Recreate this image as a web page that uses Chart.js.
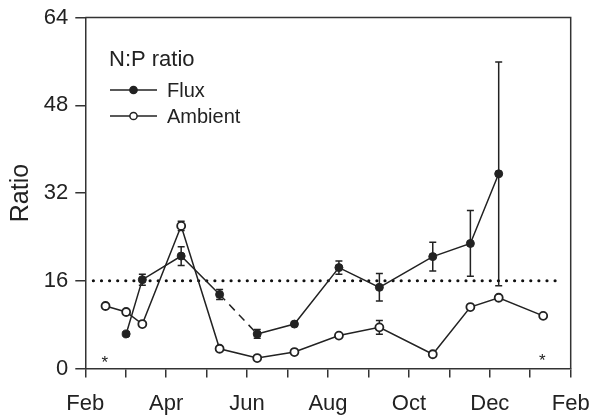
<!doctype html>
<html lang="en">
<head>
<meta charset="UTF-8" />
<title>N:P ratio</title>
<script src="https://cdn.jsdelivr.net/npm/chart.js"></script>
<style>
    html, body { margin: 0; padding: 0; background: #fff; }
    #wrap { width: 595px; height: 418px; }
</style>
</head>
<body>
<div id="wrap"><canvas id="ratioChart"></canvas></div>
<script>
// x values are months counted from 1 Feb (0) to 1 Feb next year (12)
var xTickLabels = ["Feb", "", "Apr", "", "Jun", "", "Aug", "", "Oct", "", "Dec", "", "Feb"];
var yTicks = [0, 16, 32, 48, 64];

var fluxMonths = [1.01, 1.41, 2.37, 3.32, 4.25, 5.17, 6.27, 7.27, 8.59, 9.52, 10.22];
var fluxValues = [6.3, 16.2, 20.5, 13.5, 6.3, 8.1, 18.4, 14.8, 20.4, 22.8, 35.5];
var fluxErrors = [0.3, 1.0, 1.7, 0.9, 0.8, 0.4, 1.2, 2.5, 2.6, 6.0, 20.4];
var fluxDashedFrom = 3; // segment from 4th to 5th point is dashed

var ambientMonths = [0.50, 1.01, 1.41, 2.37, 3.32, 4.25, 5.17, 6.27, 7.27, 8.59, 9.52, 10.22, 11.32];
var ambientValues = [11.4, 10.3, 8.1, 26.0, 3.6, 1.9, 3.0, 6.0, 7.5, 2.6, 11.2, 12.9, 9.6];
var ambientErrors = [0, 0, 0, 0.85, 0, 0, 0, 0, 1.25, 0, 0, 0, 0];

var ratioLine = 16;
var ratioLineFrom = 0.2;
var ratioLineTo = 11.8;

var asteriskMonths = [0.48, 11.3];
var asteriskValues = [1.7, 2.1];

var FONT = "'Liberation Sans', Arial, Helvetica, sans-serif";
var INK = "#222";

function toPoints(xs, ys) {
    return xs.map(function (x, i) { return { x: x, y: ys[i] }; });
}

// vertical error bars, drawn under the markers
var errorBars = {
    id: "errorBars",
    beforeDatasetsDraw: function (chart) {
        var ctx = chart.ctx, xs = chart.scales.x, ys = chart.scales.y;
        var sets = [[fluxMonths, fluxValues, fluxErrors], [ambientMonths, ambientValues, ambientErrors]];
        ctx.save();
        ctx.strokeStyle = INK;
        ctx.lineWidth = 1.5;
        sets.forEach(function (s) {
            s[0].forEach(function (m, i) {
                if (!s[2][i]) return;
                var px = xs.getPixelForValue(m);
                var top = ys.getPixelForValue(s[1][i] + s[2][i]);
                var bot = ys.getPixelForValue(s[1][i] - s[2][i]);
                ctx.beginPath();
                ctx.moveTo(px, top); ctx.lineTo(px, bot);
                ctx.moveTo(px - 3.5, top); ctx.lineTo(px + 3.5, top);
                ctx.moveTo(px - 3.5, bot); ctx.lineTo(px + 3.5, bot);
                ctx.stroke();
            });
        });
        ctx.restore();
    }
};

// box, asterisks and inset legend
var decorations = {
    id: "decorations",
    afterDraw: function (chart) {
        var ctx = chart.ctx, a = chart.chartArea, xs = chart.scales.x, ys = chart.scales.y;
        ctx.save();
        ctx.strokeStyle = "#333";
        ctx.lineWidth = 1.5;
        ctx.beginPath();
        ctx.moveTo(a.left, a.top); ctx.lineTo(a.right, a.top); ctx.lineTo(a.right, a.bottom);
        ctx.stroke();

        ctx.fillStyle = INK;
        ctx.font = "17px " + FONT;
        ctx.textAlign = "center";
        ctx.textBaseline = "alphabetic";
        asteriskMonths.forEach(function (m, i) {
            ctx.fillText("*", xs.getPixelForValue(m), ys.getPixelForValue(asteriskValues[i]) + 9);
        });

        ctx.textAlign = "left";
        ctx.font = "22px " + FONT;
        ctx.fillText("N:P ratio", 109, 66);

        ctx.font = "20px " + FONT;
        ctx.textBaseline = "middle";
        [["Flux", 90, true], ["Ambient", 116, false]].forEach(function (it) {
            ctx.strokeStyle = INK;
            ctx.lineWidth = 1.5;
            ctx.beginPath();
            ctx.moveTo(110, it[1]); ctx.lineTo(157, it[1]);
            ctx.stroke();
            ctx.beginPath();
            ctx.arc(133.5, it[1], 3.6, 0, Math.PI * 2);
            ctx.fillStyle = it[2] ? INK : "#fff";
            ctx.fill();
            ctx.stroke();
            ctx.fillStyle = INK;
            ctx.fillText(it[0], 167, it[1] + 1);
        });
        ctx.restore();
    }
};

var ctx = document.getElementById("ratioChart").getContext("2d");
var chart = new Chart(ctx, {
    type: "line",
    data: {
        datasets: [
            {
                label: "Flux",
                data: toPoints(fluxMonths, fluxValues),
                borderColor: INK,
                borderWidth: 1.5,
                pointRadius: 4,
                pointBackgroundColor: INK,
                pointBorderColor: INK,
                pointBorderWidth: 1,
                segment: {
                    borderDash: function (c) { return c.p0DataIndex === fluxDashedFrom ? [8, 6] : undefined; }
                },
                order: 0
            },
            {
                label: "Ambient",
                data: toPoints(ambientMonths, ambientValues),
                borderColor: INK,
                borderWidth: 1.5,
                pointRadius: 4,
                pointBackgroundColor: "#fff",
                pointBorderColor: INK,
                pointBorderWidth: 1.8,
                order: 1
            },
            {
                label: "ratio16",
                data: [{ x: ratioLineFrom, y: ratioLine }, { x: ratioLineTo, y: ratioLine }],
                borderColor: "#111",
                borderWidth: 3.2,
                borderDash: [0, 8.1],
                borderCapStyle: "round",
                pointRadius: 0,
                order: 2
            }
        ]
    },
    options: {
        responsive: true,
        maintainAspectRatio: false,
        animation: false,
        layout: { padding: { left: 0, right: 24.3, top: 17.5, bottom: 0 } },
        plugins: {
            legend: { display: false },
            tooltip: { enabled: false }
        },
        scales: {
            x: {
                type: "linear",
                min: 0,
                max: 12,
                afterFit: function (s) {
                    s.height = 49.5;
                    s.paddingLeft = 0;
                    s.paddingRight = 0;
                },
                afterBuildTicks: function (s) {
                    s.ticks = xTickLabels.map(function (_, i) { return { value: i }; });
                },
                ticks: {
                    autoSkip: false,
                    maxRotation: 0,
                    padding: 13,
                    color: INK,
                    font: { family: FONT, size: 22 },
                    callback: function (v, i) { return xTickLabels[i]; }
                },
                grid: { drawOnChartArea: false, tickLength: 9, color: "#333", lineWidth: 1.5 },
                border: { color: "#333", width: 1.5 }
            },
            y: {
                min: 0,
                max: 64,
                afterFit: function (s) {
                    s.width = 85.3;
                    s.paddingTop = 0;
                    s.paddingBottom = 0;
                },
                afterBuildTicks: function (s) {
                    s.ticks = yTicks.map(function (v) { return { value: v }; });
                },
                ticks: {
                    padding: 7,
                    color: INK,
                    font: { family: FONT, size: 22 }
                },
                title: {
                    display: true,
                    text: "Ratio",
                    color: INK,
                    padding: { top: 6, bottom: 0 },
                    font: { family: FONT, size: 25 }
                },
                grid: { drawOnChartArea: false, tickLength: 10, color: "#333", lineWidth: 1.5 },
                border: { color: "#333", width: 1.5 }
            }
        }
    },
    plugins: [errorBars, decorations]
});
</script>
</body>
</html>
